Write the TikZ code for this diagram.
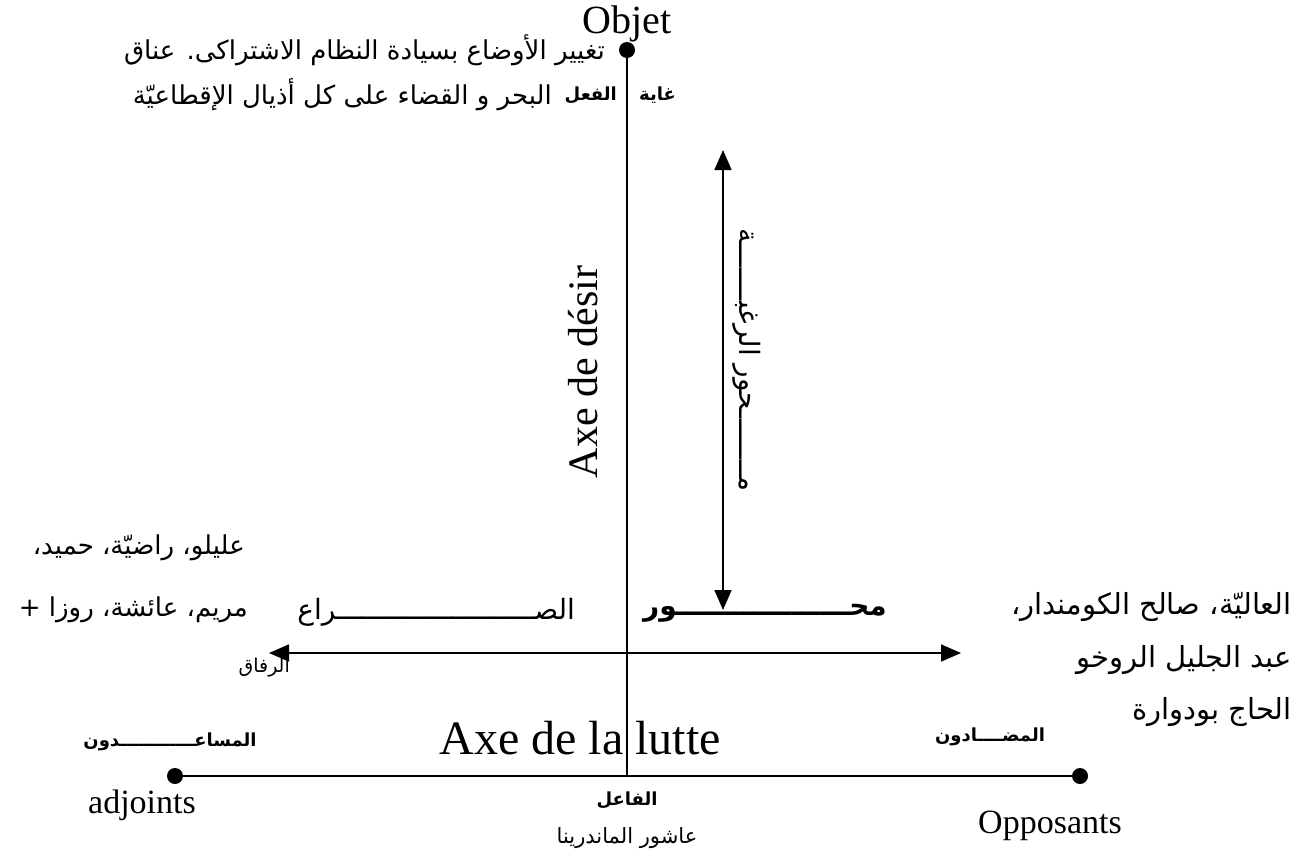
\documentclass[tikz,border=0pt]{standalone}
\usepackage{fontspec}
\setmainfont{Liberation Serif}
\newfontfamily\arabicfont[Script=Arabic]{DejaVu Sans}
\TeXXeTstate=1
\usetikzlibrary{arrows.meta}
\tikzset{
  lat/.style={font=\fontsize{#1}{#1}\selectfont, inner sep=0pt},
  ar/.style={font=\arabicfont\fontsize{#1}{#1}\selectfont, inner sep=0pt},
  arb/.style={font=\arabicfont\bfseries\fontsize{#1}{#1}\selectfont, inner sep=0pt},
  dot/.style={circle, fill=black, minimum size=16pt, inner sep=0pt},
  axisline/.style={line width=1.4pt},
  dblarrow/.style={line width=1.6pt, {Triangle[length=20pt,width=17pt]}-{Triangle[length=20pt,width=17pt]}},
}
\begin{document}
\begin{tikzpicture}[x=1pt,y=-1pt]
\useasboundingbox (0,0) rectangle (1301,857);
% points
\node[dot] (obj) at (627,50) {};
\node[dot] (adj) at (175,776) {};
\node[dot] (opp) at (1080,776) {};
\coordinate (subj) at (627,776);
% axes
\draw[axisline] (obj) -- (subj);
\draw[axisline] (adj) -- (opp);
% arrows
\coordinate (dtop) at (723,150);
\coordinate (dbot) at (723,610);
\draw[dblarrow] (dbot) -- (dtop);
\coordinate (hleft) at (269,653);
\coordinate (hright) at (961,653);
\draw[dblarrow] (hleft) -- (hright);
% Latin labels
\node[lat=40] (objet) at (627,24) {Objet};
\node[lat=42, rotate=90] (desir) at (583,372) {Axe de désir};
\node[lat=48] (lutte) at (580,738) {Axe de la lutte};
\node[lat=34] (adjoints) at (142,805) {adjoints};
\node[lat=34] (opposants) at (1050,826) {Opposants};
% Arabic labels
\node[ar=26, anchor=east] (goal1) at (605,50) {\beginR تغيير الأوضاع بسيادة النظام الاشتراكى. عناق\endR};
\node[ar=26, anchor=east] (goal2) at (552,95) {\beginR البحر و القضاء على كل أذيال الإقطاعيّة\endR};
\node[arb=18, anchor=east] (fiil) at (617,95) {\beginR الفعل\endR};
\node[arb=18, anchor=west] (ghaya) at (639,95) {\beginR غاية\endR};
\node[ar=28, rotate=-90] (raghba) at (747,360) {\beginR مــــــــحور الرغبـــــــة\endR};
\node[ar=26, anchor=east] (l1) at (245,548) {\beginR عليلو، راضيّة، حميد،\endR};
\node[ar=26, anchor=east] (l2) at (248,610) {\beginR مريم، عائشة، روزا +\endR};
\node[ar=19, anchor=east] (l3) at (290,668) {\beginR الرفاق\endR};
\node[ar=28, anchor=east] (sira) at (575,612) {\beginR الصــــــــــــــــــــــــراع\endR};
\node[arb=28, anchor=west] (mihwar) at (643,613) {\beginR محــــــــــــــــــور\endR};
\node[ar=29, anchor=east] (r1) at (1292,607) {\beginR العاليّة، صالح الكومندار،\endR};
\node[ar=29, anchor=east] (r2) at (1292,660) {\beginR عبد الجليل الروخو\endR};
\node[ar=29, anchor=east] (r3) at (1292,712) {\beginR الحاج بودوارة\endR};
\node[arb=18] (musaid) at (170,742) {\beginR المساعــــــــــــدون\endR};
\node[arb=18] (mudad) at (990,737) {\beginR المضــــادون\endR};
\node[arb=18] (fail) at (627,800) {\beginR الفاعل\endR};
\node[ar=21] (ashur) at (627,838) {\beginR عاشور الماندرينا\endR};
\end{tikzpicture}
\end{document}
